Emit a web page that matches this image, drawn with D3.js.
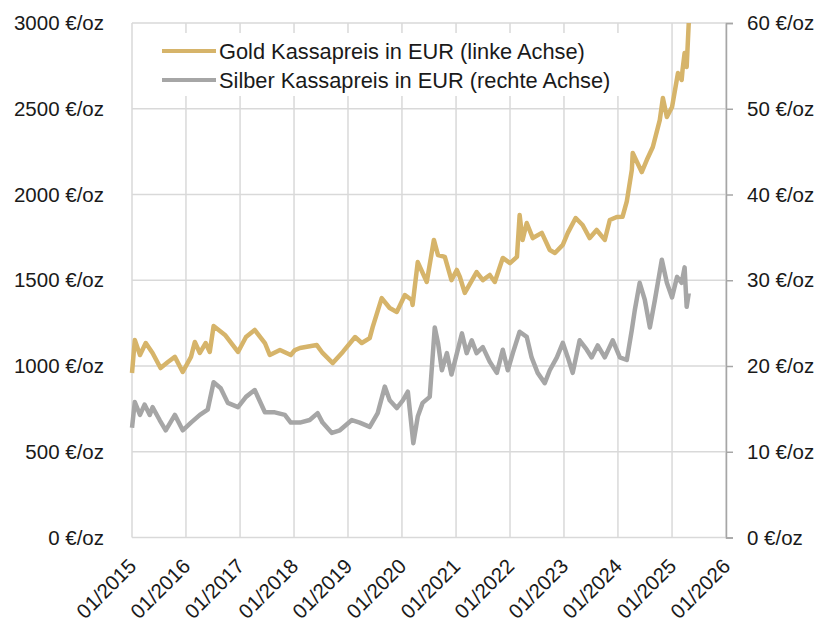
<!DOCTYPE html>
<html>
<head>
<meta charset="utf-8">
<script src="https://cdn.jsdelivr.net/npm/d3@7"></script>
<style>
  body { margin: 0; background: #fff; }
  svg text { font-family: "Liberation Sans", Arial, sans-serif; fill: #1a1a1a; }
</style>
</head>
<body>
<svg id="chart" width="821" height="624"></svg>
<script>
// Gold spot in EUR (left axis)
const goldDates = ["2015-01-01","2015-01-20","2015-02-24","2015-04-04","2015-05-20","2015-07-13","2015-09-01","2015-10-18","2015-12-10",
  "2016-02-04","2016-03-01","2016-04-04","2016-05-13","2016-06-10","2016-07-06","2016-09-21","2016-12-18",
  "2017-02-10","2017-04-10","2017-06-18","2017-07-21","2017-09-28","2017-12-10",
  "2018-01-07","2018-02-10","2018-06-04","2018-07-13","2018-09-20","2018-11-27",
  "2019-02-18","2019-04-04","2019-05-28","2019-06-17","2019-08-17","2019-10-10","2019-11-27",
  "2020-01-21","2020-03-07","2020-03-13","2020-04-17","2020-06-17","2020-08-04","2020-09-01","2020-10-17","2020-12-01",
  "2021-01-06","2021-01-27","2021-03-01","2021-05-20","2021-07-01","2021-08-17","2021-09-20","2021-11-13",
  "2022-01-01","2022-02-17","2022-03-07","2022-03-27","2022-04-24","2022-06-04","2022-08-04","2022-09-27","2022-11-01","2022-12-24",
  "2023-01-27","2023-03-21","2023-05-07","2023-06-24","2023-08-10","2023-10-04","2023-11-07","2023-12-24",
  "2024-02-01","2024-03-01","2024-04-04","2024-04-10","2024-06-10","2024-07-14","2024-08-24","2024-10-10","2024-10-31","2024-11-27",
  "2025-01-01","2025-02-10","2025-03-07","2025-03-13","2025-03-27","2025-04-10","2025-04-24"];
const goldValues = [959,1151,1064,1134,1076,988,1023,1053,965,
  1053,1140,1076,1134,1082,1233,1181,1082,
  1169,1210,1134,1064,1093,1064,
  1093,1105,1122,1076,1017,1082,
  1169,1134,1163,1227,1396,1338,1315,
  1414,1385,1356,1606,1490,1735,1647,1636,1501,
  1560,1519,1426,1548,1501,1531,1490,1630,
  1600,1636,1880,1735,1834,1746,1776,1676,1659,1706,
  1776,1863,1822,1746,1793,1735,1851,1869,
  1870,1960,2143,2242,2131,2201,2277,2434,2563,2452,
  2510,2708,2668,2726,2825,2744,3000];

// Silver spot in EUR (right axis)
const silverDates = ["2015-01-01","2015-01-20","2015-02-24","2015-03-27","2015-05-01","2015-05-20","2015-07-07","2015-08-17","2015-10-18","2015-12-10",
  "2016-02-04","2016-04-04","2016-05-27","2016-07-06","2016-08-23","2016-10-10","2016-12-18",
  "2017-02-10","2017-04-10","2017-06-18","2017-08-24","2017-10-31","2017-12-10",
  "2018-02-10","2018-04-17","2018-06-10","2018-07-13","2018-09-14","2018-11-07",
  "2019-01-27","2019-03-21","2019-05-28","2019-07-21","2019-09-07","2019-10-10","2019-11-27",
  "2020-01-07","2020-02-10","2020-03-18","2020-04-17","2020-05-20","2020-07-07","2020-08-10","2020-09-01","2020-09-27","2020-10-31","2020-12-01",
  "2021-01-07","2021-02-10","2021-03-14","2021-04-17","2021-05-20","2021-07-01","2021-08-17","2021-10-04","2021-11-13","2021-12-17",
  "2022-01-20","2022-03-07","2022-04-24","2022-05-27","2022-07-07","2022-08-24","2022-09-27","2022-11-14","2022-12-24",
  "2023-01-27","2023-03-01","2023-04-17","2023-06-04","2023-07-07","2023-08-17","2023-10-04","2023-11-27",
  "2024-01-14","2024-03-01","2024-04-04","2024-04-24","2024-05-27","2024-07-01","2024-08-04","2024-09-07","2024-10-24","2024-11-27",
  "2025-01-01","2025-02-04","2025-03-07","2025-03-27","2025-04-10","2025-04-24"];
const silverValues = [12.8,15.8,14.3,15.5,14.3,15.2,13.7,12.5,14.3,12.5,
  13.4,14.3,14.9,18.1,17.4,15.7,15.2,
  16.4,17.2,14.6,14.6,14.3,13.4,
  13.4,13.7,14.5,13.4,12.2,12.5,
  13.7,13.4,12.9,14.5,17.6,16.0,15.1,
  16.0,17.0,11.0,14.1,15.7,16.4,24.5,22.7,19.5,21.5,19.0,
  21.5,23.8,21.5,23.0,21.5,22.2,20.5,19.2,21.9,19.5,
  21.5,24.0,23.4,21.0,19.2,18.0,19.5,21.0,22.7,
  21.0,19.2,23.0,21.9,21.0,22.4,21.0,23.0,
  21.0,20.7,24.2,26.5,29.7,27.7,24.5,27.7,32.4,29.7,
  28.0,30.4,29.7,31.5,26.9,28.5];

const leftTicks = [0, 500, 1000, 1500, 2000, 2500, 3000];
const rightTicks = [0, 10, 20, 30, 40, 50, 60];
const legendLabels = ["Gold Kassapreis in EUR (linke Achse)", "Silber Kassapreis in EUR (rechte Achse)"];

const parse = d3.timeParse("%Y-%m-%d");
const gold = goldDates.map((d, i) => ({ date: parse(d), value: goldValues[i] }));
const silver = silverDates.map((d, i) => ({ date: parse(d), value: silverValues[i] }));

const plotLeft = 132, plotRight = 726, plotTop = 23, plotBottom = 537.5;
const svg = d3.select("#chart");

const x = d3.scaleTime().domain([new Date(2015, 0, 1), new Date(2026, 0, 1)]).range([plotLeft, plotRight]);
const yL = d3.scaleLinear().domain([0, 3000]).range([plotBottom, plotTop]);
const yR = d3.scaleLinear().domain([0, 60]).range([plotBottom, plotTop]);

// gridlines
svg.append("g").selectAll("line").data(leftTicks).join("line")
  .attr("x1", plotLeft).attr("x2", plotRight)
  .attr("y1", d => yL(d)).attr("y2", d => yL(d))
  .attr("stroke", "#d9d9d9").attr("stroke-width", 1.5);
svg.append("g").selectAll("line").data(x.ticks(d3.timeYear.every(1))).join("line")
  .attr("x1", d => x(d)).attr("x2", d => x(d))
  .attr("y1", plotTop).attr("y2", plotBottom)
  .attr("stroke", "#d9d9d9").attr("stroke-width", 1.5);

// left axis labels
const axL = svg.append("g").attr("transform", `translate(${plotLeft},0)`)
  .call(d3.axisLeft(yL).tickValues(leftTicks).tickSize(0).tickPadding(28).tickFormat(d => d + " €/oz"));
axL.select(".domain").remove();
axL.selectAll("text").style("font-size", "20.5px");

// right axis
const axR = svg.append("g").attr("transform", `translate(${plotRight},0)`)
  .call(d3.axisRight(yR).tickValues(rightTicks).tickSize(7).tickPadding(14).tickFormat(d => d + " €/oz"));
axR.select(".domain").attr("stroke", "#a6a6a6").attr("stroke-width", 1.5);
axR.selectAll("line").attr("stroke", "#a6a6a6").attr("stroke-width", 1.5);
axR.selectAll("text").style("font-size", "20.5px");

// x axis labels
const axX = svg.append("g").attr("transform", `translate(0,${plotBottom})`)
  .call(d3.axisBottom(x).ticks(d3.timeYear.every(1)).tickSize(0).tickFormat(d3.timeFormat("%m/%Y")));
axX.select(".domain").remove();
axX.selectAll("text")
  .style("font-size", "20.5px")
  .attr("text-anchor", "end")
  .attr("dy", null).attr("y", 0)
  .attr("transform", "translate(5,30) rotate(-45)");

// lines
const lineL = d3.line().x(d => x(d.date)).y(d => yL(d.value));
const lineR = d3.line().x(d => x(d.date)).y(d => yR(d.value));
svg.append("path").datum(gold).attr("d", lineL)
  .attr("fill", "none").attr("stroke", "#d6b46a").attr("stroke-width", 4.5).attr("stroke-linejoin", "round");
svg.append("path").datum(silver).attr("d", lineR)
  .attr("fill", "none").attr("stroke", "#a6a6a6").attr("stroke-width", 4.5).attr("stroke-linejoin", "round");

// legend
const lg = svg.append("g");
lg.append("rect").attr("x", 145).attr("y", 33).attr("width", 483).attr("height", 63).attr("fill", "#fff");
const colors = ["#d6b46a", "#a6a6a6"];
legendLabels.forEach((t, i) => {
  const yy = 51 + i * 29;
  lg.append("line").attr("x1", 162).attr("x2", 216).attr("y1", yy).attr("y2", yy)
    .attr("stroke", colors[i]).attr("stroke-width", 4);
  lg.append("text").attr("x", 219).attr("y", yy).attr("dy", "0.36em")
    .style("font-size", "21.8px").text(t);
});
</script>
</body>
</html>
